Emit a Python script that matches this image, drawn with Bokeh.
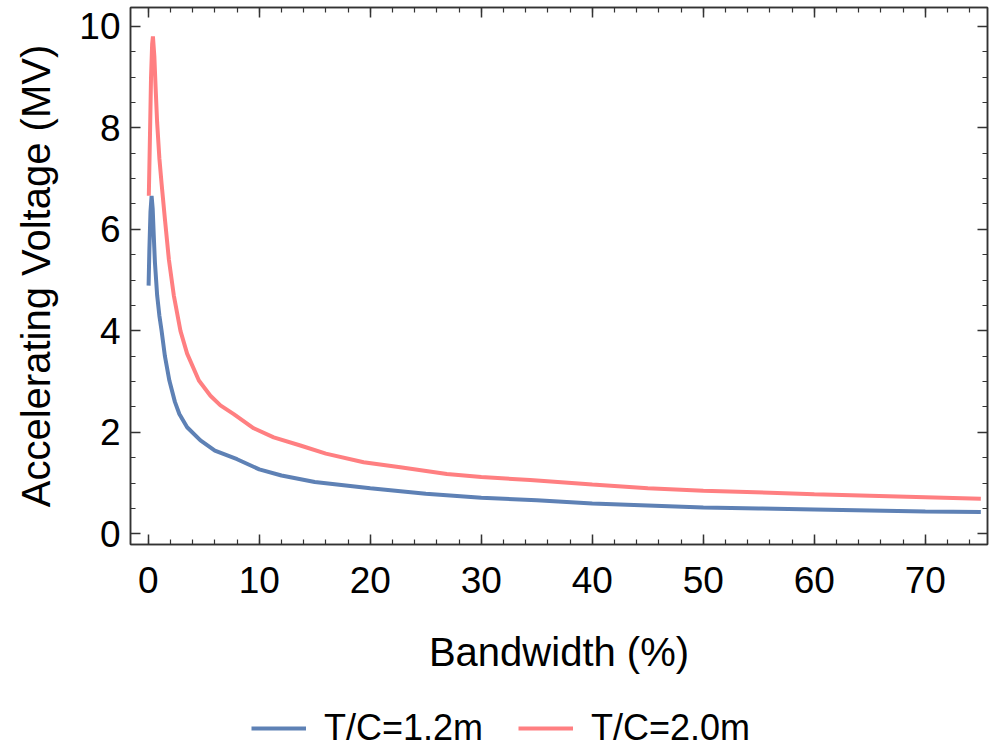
from bokeh.plotting import figure
from bokeh.layouts import column
from bokeh.models import (Range1d, LinearAxis, SingleIntervalTicker, Legend, LegendItem,
                          CustomJSTickFormatter)
from bokeh.embed import file_html
from bokeh.resources import INLINE

# Data
bw_12 = [0.03, 0.1, 0.2, 0.3, 0.4, 0.5, 0.6, 0.8, 1.0, 1.2, 1.5, 1.9, 2.4, 2.8, 3.5, 4.7,
         6, 8, 10, 12, 15, 20, 25, 30, 35, 40, 45, 50, 55, 60, 65, 70, 75]
v_12 = [4.89, 5.6, 6.35, 6.66, 6.4, 5.85, 5.35, 4.7, 4.3, 4.0, 3.5, 3.02, 2.6, 2.36, 2.1, 1.84,
        1.64, 1.47, 1.27, 1.15, 1.02, 0.9, 0.79, 0.71, 0.66, 0.6, 0.56, 0.52, 0.5, 0.48, 0.46, 0.44, 0.43]

bw_20 = [0.05, 0.15, 0.25, 0.35, 0.42, 0.55, 0.66, 0.8, 1.0, 1.2, 1.5, 1.86, 2.3, 2.9, 3.5,
         4.56, 5.6, 6.5, 7.7, 9.5, 11.3, 13.7, 16, 19.4, 22.7, 26.9, 30, 34.4, 40, 45, 50,
         56, 60, 65, 70, 75]
v_20 = [6.66, 7.8, 9.0, 9.65, 9.8, 9.4, 8.8, 8.1, 7.4, 6.9, 6.2, 5.4, 4.7, 4.0, 3.55,
        3.02, 2.72, 2.53, 2.36, 2.08, 1.9, 1.74, 1.58, 1.41, 1.31, 1.18, 1.12, 1.06, 0.97, 0.9, 0.85,
        0.81, 0.78, 0.75, 0.72, 0.69]

series_labels = ["T/C=1.2m", "T/C=2.0m"]
colors = ["#5E81B5", "#FF7F81"]

FONT = "Liberation Sans"
FRAME = "#333333"

p = figure(width=994, height=700, output_backend="svg", toolbar_location=None,
           x_range=Range1d(-1.6, 75.6), y_range=Range1d(-0.21, 10.37),
           min_border_left=130, min_border_right=7, min_border_top=7, min_border_bottom=156,
           x_axis_location=None, y_axis_location=None)
p.grid.visible = False
p.outline_line_color = FRAME
p.outline_line_width = 1.5
p.background_fill_color = "white"
p.border_fill_color = "white"

xt = SingleIntervalTicker(interval=10, num_minor_ticks=5)
yt = SingleIntervalTicker(interval=2, num_minor_ticks=4)
blank = CustomJSTickFormatter(code="return '';")

def style(ax, labels=True):
    ax.axis_line_color = FRAME
    ax.axis_line_width = 1.5
    ax.major_tick_line_color = FRAME
    ax.minor_tick_line_color = FRAME
    ax.major_tick_line_width = 1.5
    ax.minor_tick_line_width = 1.2
    ax.major_tick_in = 10
    ax.major_tick_out = 0
    ax.minor_tick_in = 5
    ax.minor_tick_out = 0
    ax.major_label_text_font = FONT
    ax.axis_label_text_font = FONT
    ax.axis_label_text_font_style = "normal"
    ax.axis_label_text_color = "black"
    ax.major_label_text_color = "black"
    ax.major_label_text_font_size = "37px"
    ax.axis_label_text_font_size = "40px"
    if not labels:
        ax.formatter = blank
        ax.major_label_standoff = 0
        ax.major_label_text_font_size = "1px"

xb = LinearAxis(ticker=xt, axis_label="Bandwidth (%)")
style(xb)
xb.major_label_standoff = 22
xb.axis_label_standoff = 34
p.add_layout(xb, "below")

yl = LinearAxis(ticker=yt, axis_label="Accelerating Voltage (MV)")
style(yl)
yl.major_label_standoff = 10
yl.axis_label_standoff = 18
p.add_layout(yl, "left")

xa = LinearAxis(ticker=xt)
style(xa, labels=False)
p.add_layout(xa, "above")
yr = LinearAxis(ticker=yt)
style(yr, labels=False)
p.add_layout(yr, "right")

p.line(bw_12, v_12, line_color=colors[0], line_width=4)
p.line(bw_20, v_20, line_color=colors[1], line_width=4)

# Legend strip below the chart (series drawn off-view, only their keys show)
pl = figure(width=994, height=49, output_backend="svg", toolbar_location=None,
            x_range=Range1d(-1.6, 75.6), y_range=Range1d(100, 101),
            min_border_left=0, min_border_right=0, min_border_top=0, min_border_bottom=0,
            x_axis_location=None, y_axis_location=None)
pl.grid.visible = False
pl.outline_line_color = None
pl.border_fill_color = "white"
k1 = pl.line(bw_12, v_12, line_color=colors[0], line_width=4)
k2 = pl.line(bw_20, v_20, line_color=colors[1], line_width=4)
legend = Legend(items=[LegendItem(label=series_labels[0], renderers=[k1]),
                       LegendItem(label=series_labels[1], renderers=[k2])],
                orientation="horizontal", location=(121, 0),
                label_text_font=FONT, label_text_font_size="36px", label_text_color="black",
                glyph_width=55, glyph_height=20, spacing=35, label_standoff=18,
                border_line_color=None, background_fill_alpha=0,
                margin=0, padding=0)
pl.add_layout(legend, "center")

layout = column(p, pl, spacing=0)
open("out.html", "w").write(file_html(layout, INLINE))
